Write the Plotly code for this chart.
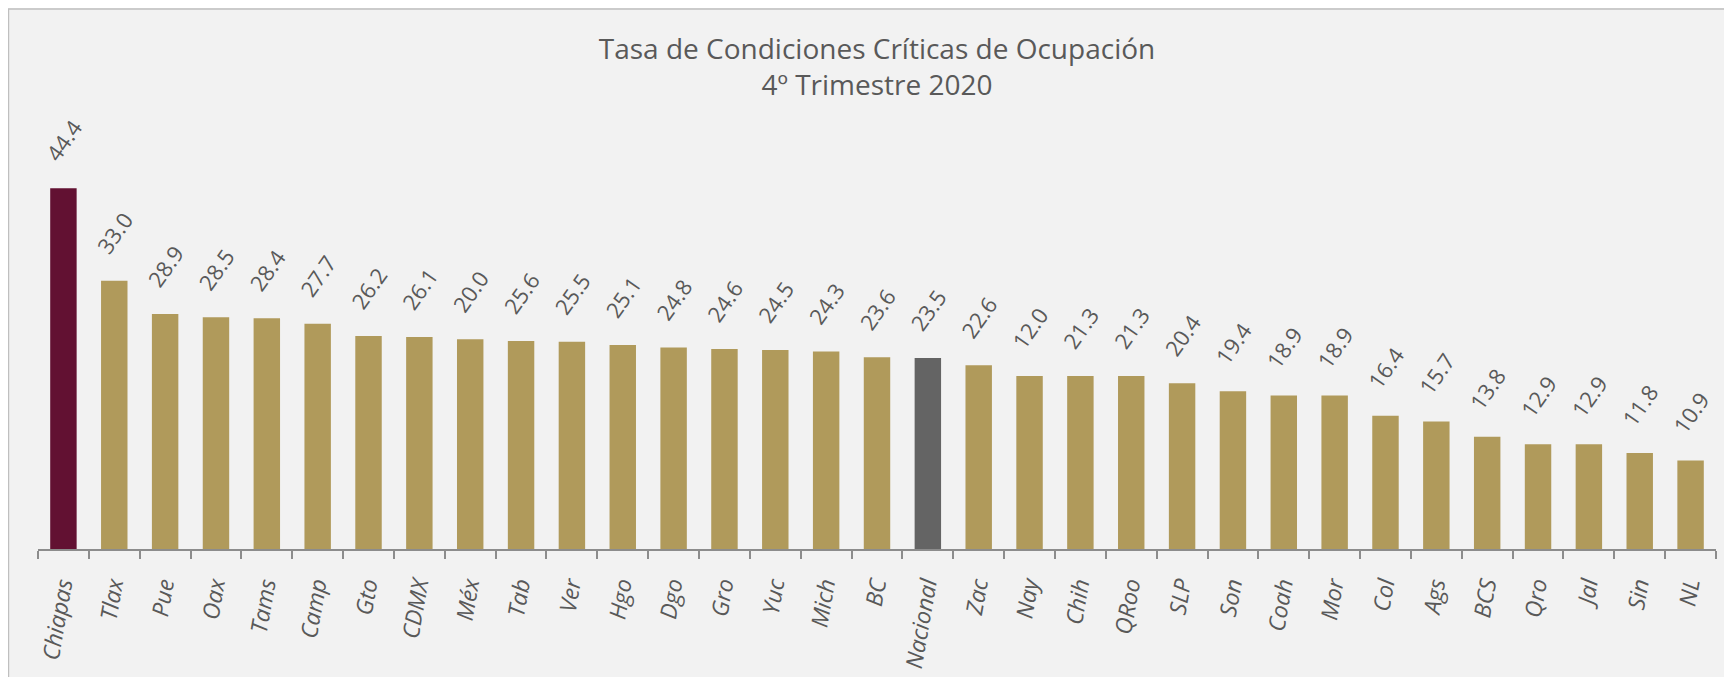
import plotly.graph_objects as go

# states ordered as in the chart
estados = ['Chiapas', 'Tlax', 'Pue', 'Oax', 'Tams', 'Camp', 'Gto', 'CDMX', 'Méx',
           'Tab', 'Ver', 'Hgo', 'Dgo', 'Gro', 'Yuc', 'Mich', 'BC', 'Nacional',
           'Zac', 'Nay', 'Chih', 'QRoo', 'SLP', 'Son', 'Coah', 'Mor', 'Col',
           'Ags', 'BCS', 'Qro', 'Jal', 'Sin', 'NL']

# bar heights as drawn
tasa = [44.4, 33.0, 28.9, 28.5, 28.4, 27.7, 26.2, 26.1, 25.8,
        25.6, 25.5, 25.1, 24.8, 24.6, 24.5, 24.3, 23.6, 23.5,
        22.6, 21.3, 21.3, 21.3, 20.4, 19.4, 18.9, 18.9, 16.4,
        15.7, 13.8, 12.9, 12.9, 11.8, 10.9]

# data labels as printed on the chart
etiquetas = ['44.4', '33.0', '28.9', '28.5', '28.4', '27.7', '26.2', '26.1', '20.0',
             '25.6', '25.5', '25.1', '24.8', '24.6', '24.5', '24.3', '23.6', '23.5',
             '22.6', '12.0', '21.3', '21.3', '20.4', '19.4', '18.9', '18.9', '16.4',
             '15.7', '13.8', '12.9', '12.9', '11.8', '10.9']

GOLD = '#B09A5B'
MAROON = '#621132'
GREY = '#646464'
TEXT = '#595959'

colors = []
for e in estados:
    if e == 'Chiapas':
        colors.append(MAROON)
    elif e == 'Nacional':
        colors.append(GREY)
    else:
        colors.append(GOLD)

# pad labels with non-breaking spaces so they float a little above the bars
pad = '\u00a0' * 4
textos = [pad + t + pad for t in etiquetas]
# same trick to push the category names away from the axis
nombres = [e + '\u00a0\u00a0' for e in estados]

fig = go.Figure()

fig.add_trace(go.Bar(
    x=estados,
    y=tasa,
    text=textos,
    textposition='outside',
    textangle=-55,
    constraintext='none',
    cliponaxis=False,
    textfont=dict(family='Open Sans', size=22, color=TEXT),
    marker=dict(color=colors, line=dict(width=0)),
    hoverinfo='x+y'
))

# frame around the chart area (top and left edges visible)
fig.add_shape(type='rect', xref='paper', yref='paper',
              x0=-0.0176, x1=1.2, y0=-0.6, y1=1.208,
              line=dict(color='#BFBFBF', width=1.5), layer='below')

fig.update_layout(
    width=1732,
    height=677,
    paper_bgcolor='#F2F2F2',
    plot_bgcolor='#F2F2F2',
    margin=dict(l=30, r=24, t=94, b=136),
    bargap=0.48,
    showlegend=False,
    title=dict(
        text='Tasa de Condiciones Críticas de Ocupación<br>4º Trimestre 2020',
        x=0.5, xref='paper', xanchor='center',
        y=0.925, yanchor='top',
        font=dict(family='Open Sans', size=28, color=TEXT)
    ),
    xaxis=dict(
        automargin=False,
        showline=True,
        linecolor='#8C8C8C',
        linewidth=1.5,
        ticks='outside',
        tickson='boundaries',
        ticklen=8,
        tickcolor='#8C8C8C',
        tickwidth=1.5,
        tickangle=-80,
        tickvals=estados,
        ticktext=nombres,
        tickfont=dict(family='Open Sans', size=23, color=TEXT, style='italic'),
        showgrid=False
    ),
    yaxis=dict(
        range=[0, 55],
        visible=False,
        showgrid=False,
        zeroline=False
    )
)

fig.write_html("out.html")
